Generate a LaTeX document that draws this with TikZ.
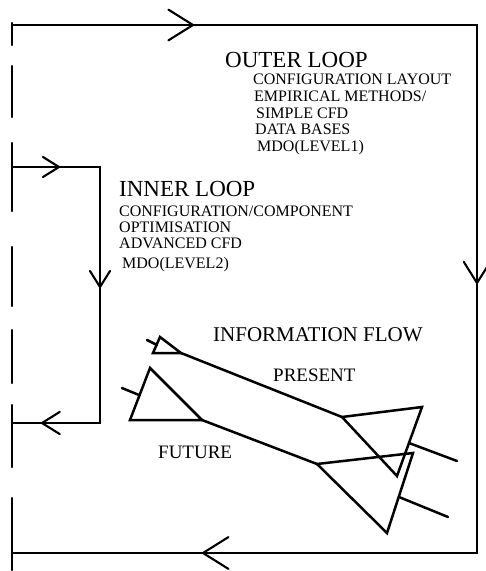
\documentclass[tikz,border=0pt]{standalone}
\usepackage{fontspec}
\setmainfont{Liberation Serif}
\usepackage{tkz-euclide}

\tikzset{
  loopline/.style={line width=2.1pt, line cap=round},
  planeline/.style={line width=2.5pt, line join=miter},
  headline/.style={anchor=base west, inner sep=0pt, font=\fontsize{23}{23}\selectfont},
  flowline/.style={anchor=base west, inner sep=0pt, font=\fontsize{19}{19}\selectfont},
  listline/.style={anchor=base west, inner sep=0pt, font=\fontsize{16}{16}\selectfont},
}

\begin{document}
\begin{tikzpicture}[x=1pt,y=-1pt]
\useasboundingbox (0,0) rectangle (486,571);

% loop corners
\tkzDefPoints{12/25/O1, 477/25/O2, 477/553/O3, 12/553/O4,
  12/167/I1, 100/167/I2, 100/423/I3, 12/423/I4}

\tkzDrawPolySeg[loopline](O1,O2,O3,O4)
\tkzDrawPolySeg[loopline](I1,I2,I3,I4)

% broken left side
\foreach \a/\b in {23/45,66/117,143/211,247/306,330/383,405/467,498/570}
  \draw[loopline] (12,\a) -- (12,\b);

% open heads along the loops
\tkzDefPoints{193/25/T1, 477/283/T2, 203/553/T3, 59/167/T4, 100/287/T5, 42/423/T6}
\foreach \tip/\dir/\len in {T1/0/29, T2/-90/25, T3/180/30, T4/0/19, T5/-90/19, T6/180/21}
  \draw[loopline] ([shift={(\dir+148:\len pt)}]\tip) -- (\tip) -- ([shift={(\dir-148:\len pt)}]\tip);

% present aircraft
\tkzDefPoints{160/337/PA, 153/353/PB, 181/353/PC, 342/417/PD, 422/407/PE, 397/476/PF,
  147/340/PS, 157/345/PT, 409/443/PG, 457/461/PH}
\tkzDrawPolygon[planeline](PA,PB,PC)
\tkzDrawPolygon[planeline](PD,PE,PF)
\tkzDrawSegments[planeline](PC,PD PS,PT PG,PH)

% future aircraft
\tkzDefPoints{150/368/FA, 130/420/FB, 202/420/FC, 317/464/FD, 413/453/FE, 387/533/FF,
  122/388/FS, 139/395/FT, 399/497/FG, 448/517/FH}
\tkzDrawPolygon[planeline](FA,FB,FC)
\tkzDrawPolygon[planeline](FD,FE,FF)
\tkzDrawSegments[planeline](FC,FD FS,FT FG,FH)

% labels
\node[headline] (outer) at (225,67) {OUTER LOOP};
\node[listline] (outerA) at (253,84) {CONFIGURATION LAYOUT};
\node[listline] (outerB) at (254,101) {EMPIRICAL METHODS/};
\node[listline] (outerC) at (256,118) {SIMPLE CFD};
\node[listline] (outerD) at (255,134) {DATA BASES};
\node[listline] (outerE) at (257,151) {MDO(LEVEL1)};

\node[headline] (inner) at (119,196) {INNER LOOP};
\node[listline] (innerA) at (119,216) {CONFIGURATION/COMPONENT};
\node[listline] (innerB) at (119,232) {OPTIMISATION};
\node[listline] (innerC) at (119,248) {ADVANCED CFD};
\node[listline] (innerD) at (122,268) {MDO(LEVEL2)};

\node[flowline, font=\fontsize{21}{21}\selectfont] (flow) at (213,341) {INFORMATION FLOW};
\node[flowline] (present) at (273,381) {PRESENT};
\node[flowline] (future) at (158,458) {FUTURE};
\end{tikzpicture}
\end{document}
